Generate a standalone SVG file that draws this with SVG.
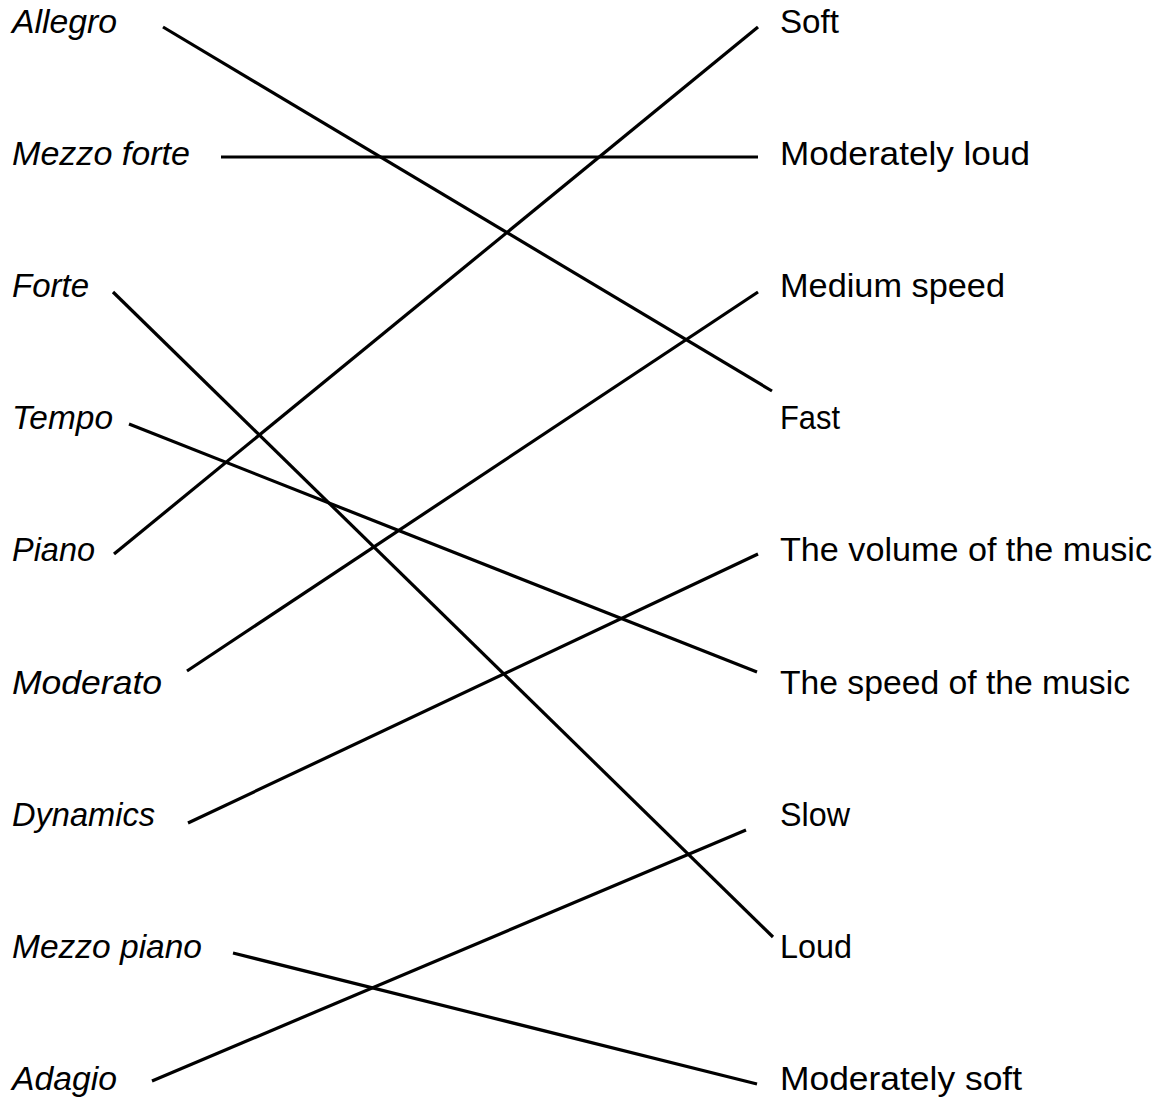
<svg xmlns="http://www.w3.org/2000/svg" width="1168" height="1101" viewBox="0 0 1168 1101">
<style>
text{font-family:"Liberation Sans",Arial,sans-serif;font-size:33px;fill:#000}
.l{font-style:italic}
#connectors line{stroke:#000;stroke-width:3.2;stroke-linecap:butt}
</style>
<rect width="1168" height="1101" fill="#fff"/>
<g id="left">
<g id="n-allegro"><text class="l" x="12" y="33" textLength="105" lengthAdjust="spacingAndGlyphs">Allegro</text></g>
<g id="n-mezzoforte"><text class="l" x="12" y="165" textLength="178" lengthAdjust="spacingAndGlyphs">Mezzo forte</text></g>
<g id="n-forte"><text class="l" x="12" y="297" textLength="77" lengthAdjust="spacingAndGlyphs">Forte</text></g>
<g id="n-tempo"><text class="l" x="12" y="429" textLength="101" lengthAdjust="spacingAndGlyphs">Tempo</text></g>
<g id="n-piano"><text class="l" x="12" y="561" textLength="83" lengthAdjust="spacingAndGlyphs">Piano</text></g>
<g id="n-moderato"><text class="l" x="12" y="694" textLength="150" lengthAdjust="spacingAndGlyphs">Moderato</text></g>
<g id="n-dynamics"><text class="l" x="12" y="826" textLength="143" lengthAdjust="spacingAndGlyphs">Dynamics</text></g>
<g id="n-mezzopiano"><text class="l" x="12" y="958" textLength="190" lengthAdjust="spacingAndGlyphs">Mezzo piano</text></g>
<g id="n-adagio"><text class="l" x="12" y="1090" textLength="105" lengthAdjust="spacingAndGlyphs">Adagio</text></g>
</g>
<g id="right">
<g id="n-soft"><text x="780" y="33" textLength="59" lengthAdjust="spacingAndGlyphs">Soft</text></g>
<g id="n-modloud"><text x="780" y="165" textLength="250" lengthAdjust="spacingAndGlyphs">Moderately loud</text></g>
<g id="n-medium"><text x="780" y="297" textLength="225" lengthAdjust="spacingAndGlyphs">Medium speed</text></g>
<g id="n-fast"><text x="780" y="429" textLength="60" lengthAdjust="spacingAndGlyphs">Fast</text></g>
<g id="n-volume"><text x="780" y="561" textLength="372" lengthAdjust="spacingAndGlyphs">The volume of the music</text></g>
<g id="n-speed"><text x="780" y="694" textLength="350" lengthAdjust="spacingAndGlyphs">The speed of the music</text></g>
<g id="n-slow"><text x="780" y="826" textLength="70" lengthAdjust="spacingAndGlyphs">Slow</text></g>
<g id="n-loud"><text x="780" y="958" textLength="72" lengthAdjust="spacingAndGlyphs">Loud</text></g>
<g id="n-modsoft"><text x="780" y="1090" textLength="242" lengthAdjust="spacingAndGlyphs">Moderately soft</text></g>
</g>
<g id="connectors">
<line x1="163" y1="27" x2="772" y2="391"/>
<line x1="221" y1="157" x2="758" y2="157"/>
<line x1="113" y1="292" x2="773" y2="937"/>
<line x1="129" y1="424" x2="757" y2="672"/>
<line x1="114" y1="554" x2="758" y2="27"/>
<line x1="187" y1="671" x2="758" y2="292"/>
<line x1="188" y1="823" x2="758" y2="554"/>
<line x1="233" y1="953" x2="757" y2="1084"/>
<line x1="152" y1="1081" x2="746" y2="830"/>
</g>
</svg>
